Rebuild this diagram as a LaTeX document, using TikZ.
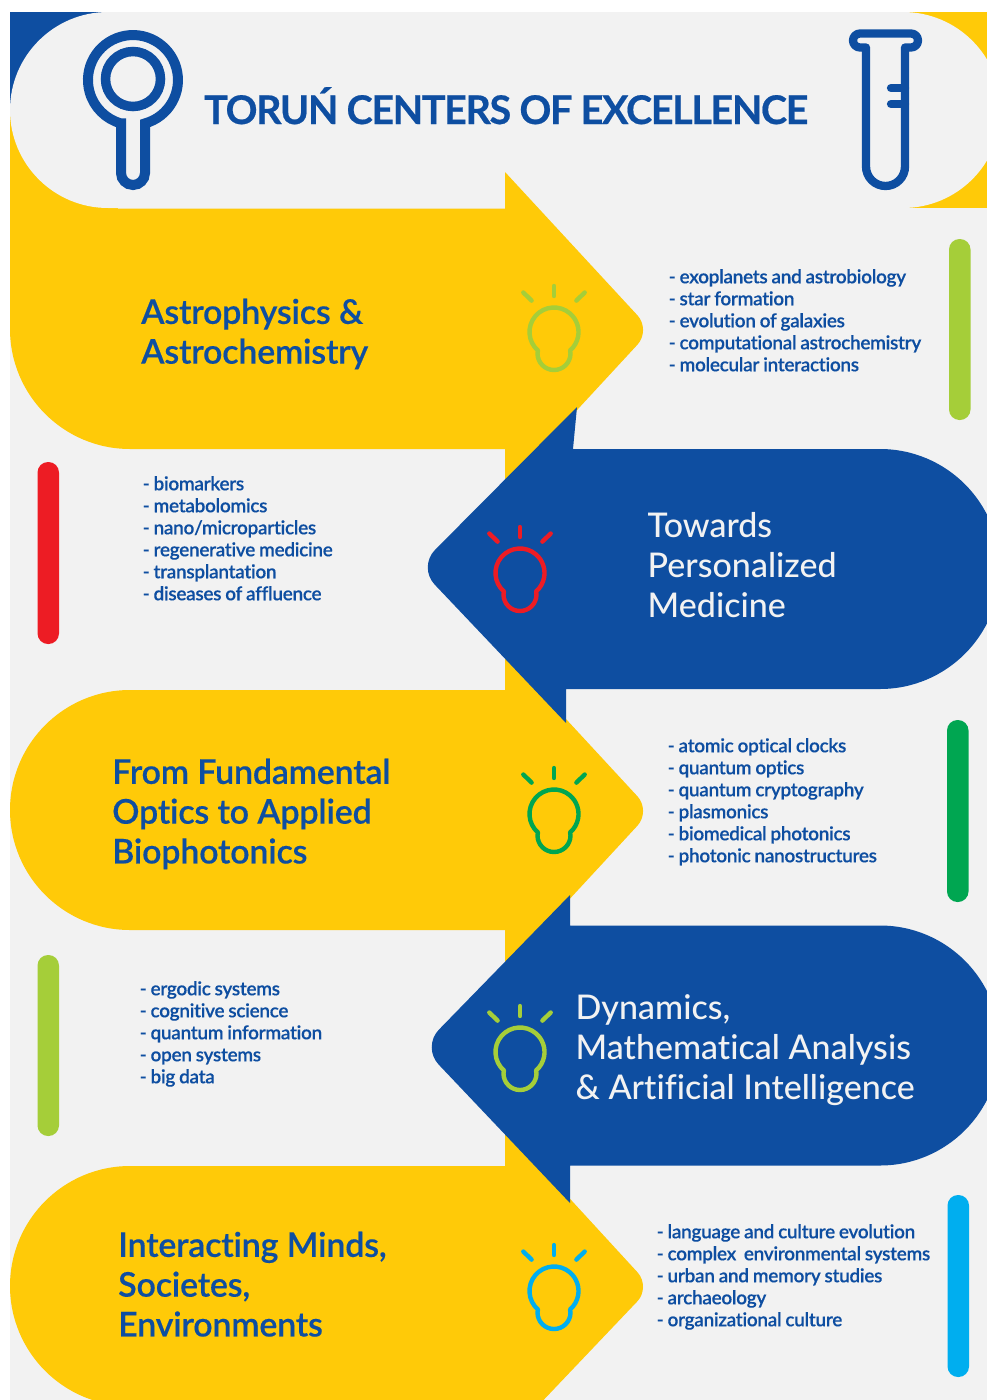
\documentclass[tikz,border=0pt]{standalone}
\usepackage{fontspec}
\setmainfont{Lato}
\newfontfamily\ttitlefont{Lato Bold}[FakeBold=0.5,LetterSpace=-3.45,Ligatures=NoCommon]
\newfontfamily\theadfont{Lato Semibold}[FakeBold=0.3,LetterSpace=-0.6,Ligatures=NoCommon]
\newfontfamily\theadwfont{Lato Medium}[Ligatures=NoCommon]
\newfontfamily\tlistfont{Lato Semibold}[FakeBold=0.2,LetterSpace=-1.6,WordSpace=0.85,Ligatures=NoCommon]
\definecolor{tyellow}{HTML}{FFCA08}
\definecolor{tblue}{HTML}{0E4EA1}
\definecolor{tgrey}{HTML}{F2F2F2}
\definecolor{tlime}{HTML}{A5CE39}
\definecolor{tred}{HTML}{ED1C24}
\definecolor{tgreen}{HTML}{00A651}
\definecolor{tcyan}{HTML}{00AEEF}
\tikzset{
  titletext/.style={anchor=base west,inner sep=0,text=tblue,font=\ttitlefont\fontsize{39.5}{40}\selectfont},
  headtext/.style={anchor=north west,inner sep=0,text=tblue,align=left,font=\theadfont\fontsize{34}{39.8}\selectfont},
  headwhite/.style={anchor=north west,inner sep=0,align=left,text=tgrey,font=\theadwfont\fontsize{34}{39.8}\selectfont},
  listtext/.style={anchor=north west,inner sep=0,text=tblue,align=left,font=\tlistfont\fontsize{19}{22}\selectfont},
  iconline/.style={draw=tblue,line width=10pt,line join=miter},
  tubeline/.style={draw=tblue,line width=8.3pt,line cap=round},
  bulbline/.style={line width=4.4pt,line cap=round,line join=round},
}
\newcommand{\tbulb}[3]{%
  \begin{scope}[shift={(#1,#2)},bulbline,draw=#3]
    \draw (-16.5,21.5) -- (131:24.5) arc (131:409:24.5) -- (16.5,21.5) arc (0:180:16.5) -- cycle;
    \draw (0,-46) -- (0,-36);
    \draw (-30.7,-39.5) -- (-22.4,-31.4);
    \draw (30.7,-39.5) -- (22.4,-31.4);
  \end{scope}}
\newcommand{\tpill}[4]{\fill[#4,rounded corners=10.5pt] (#1,#2) rectangle (#1+21.5,#3);}
\begin{document}
\begin{tikzpicture}[x=1pt,y=-1pt]
\useasboundingbox (0,0) rectangle (987,1400);
\clip (0,0) rectangle (987,1400);
\fill[white] (0,0) rectangle (987,1400);
\fill[tgrey] (10,12) rectangle (987,1400);
% header corners
\fill[tblue] (10,12) rectangle (118,110);
\fill[tyellow] (10,110) rectangle (118,260);
\fill[tyellow] (880,12) rectangle (987,208);
% header pill
\fill[tgrey] (108,12) -- (903,12) arc (-90:90:98) -- (108,208) arc (90:270:98) -- cycle;
% yellow arrows
\fill[tyellow] (10,208.5) -- (505,208.5) -- (505,172) [rounded corners=20pt] -- (651,330) [sharp corners] -- (505,488) -- (505,449) -- (130,449) arc (90:180:120) -- cycle;
\fill[tyellow] (130,690) -- (505,690) -- (505,653) [rounded corners=20pt] -- (651,811) [sharp corners] -- (505,969) -- (505,930) -- (130,930) arc (90:270:120) -- cycle;
\fill[tyellow] (130,1166) -- (505,1166) -- (505,1128) [rounded corners=20pt] -- (651,1287) [sharp corners] -- (496,1450) -- (130,1450) -- (130,1406) arc (90:270:120) -- cycle;
% blue arrows
\fill[tblue] (577,407) [rounded corners=24pt] -- (418,567) [sharp corners] -- (566,723) -- (566,689) -- (880,689) arc (90:-90:120) -- (573,449) -- cycle;
\fill[tblue] (570,895) [rounded corners=24pt] -- (422,1047) [sharp corners] -- (570,1203) -- (570,1165.5) -- (880,1165.5) arc (90:-90:120) -- (570,925.5) -- cycle;
% magnifier
\draw[iconline] (121,123.4) -- (121,173) arc (180:0:12) -- (145,123.4) arc (74.5:-254.5:45) -- cycle;
\draw[draw=tblue,line width=9.5pt] (133,79) circle (27.5);
% test tube
\draw[tubeline,line join=round] (866,47.5) -- (860,47.5) arc (90:270:7) -- (911,33.5) arc (-90:90:7) -- (905,47.5) -- (905,166.5) arc (0:180:19.5) -- cycle;
\draw[tubeline] (891,88) -- (905,88);
\draw[tubeline] (891,104) -- (905,104);
% title
\node[titletext] (title) at (204,124) {TORUŃ CENTERS OF EXCELLENCE};
% headings
\node[headtext] (h1) at (141,298.5) {Astrophysics \&\\Astrochemistry};
\node[headwhite] (h2) at (647.5,512.5) {Towards\\Personalized\\Medicine};
\node[headtext] (h3) at (112,758.5) {From Fundamental\\Optics to Applied\\Biophotonics};
\node[headwhite] (h4) at (575.5,994.5) {Dynamics,\\Mathematical Analysis\\\& Artificial Intelligence};
\node[headtext] (h5) at (118,1231.5) {Interacting Minds,\\Societes,\\Environments};
% lists
\node[listtext] (l1) at (668.5,269) {- exoplanets and astrobiology\\- star formation\\- evolution of galaxies\\- computational astrochemistry\\- molecular interactions};
\node[listtext] (l2) at (142.5,476) {- biomarkers\\- metabolomics\\- nano/microparticles\\- regenerative medicine\\- transplantation\\- diseases of affluence};
\node[listtext] (l3) at (667.5,738) {- atomic optical clocks\\- quantum optics\\- quantum cryptography\\- plasmonics\\- biomedical photonics\\- photonic nanostructures};
\node[listtext] (l4) at (139.5,981) {- ergodic systems\\- cognitive science\\- quantum information\\- open systems\\- big data};
\node[listtext] (l5) at (656.5,1224) {- language and culture evolution\\- complex\ \ environmental systems\\- urban and memory studies\\- archaeology\\- organizational culture};
% bulbs
\tbulb{554}{332}{tlime}
\tbulb{520}{573}{tred}
\tbulb{554}{814}{tgreen}
\tbulb{520}{1052}{tlime}
\tbulb{554}{1291}{tcyan}
% pills
\tpill{949}{239}{420}{tlime}
\tpill{37.5}{462}{644}{tred}
\tpill{947}{720}{902}{tgreen}
\tpill{37.5}{955}{1136}{tlime}
\tpill{947.5}{1195}{1377}{tcyan}
\end{tikzpicture}
\end{document}
